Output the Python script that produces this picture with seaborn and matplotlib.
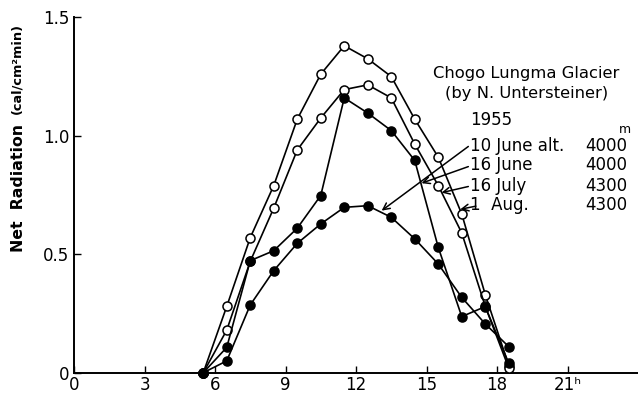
"""Net radiation, Chogo Lungma Glacier 1955 (after N. Untersteiner)."""

import matplotlib

matplotlib.use("Agg")
import matplotlib.pyplot as plt
import pandas as pd
import seaborn as sns

sns.set_theme(style="ticks")
plt.rcParams["font.family"] = ["DejaVu Sans"]
plt.rcParams["text.color"] = "black"
plt.rcParams["axes.labelcolor"] = "black"

# hour of day (local time)
hours = [5.5, 6.5, 7.5, 8.5, 9.5, 10.5, 11.5, 12.5, 13.5, 14.5, 15.5, 16.5, 17.5, 18.5]

# net radiation, cal/cm2 min
aug_1 = [0, 0.28, 0.57, 0.79, 1.07, 1.26, 1.38, 1.325, 1.25, 1.07, 0.91, 0.67, 0.33, 0.03]
july_16 = [0, 0.18, 0.47, 0.695, 0.94, 1.075, 1.195, 1.215, 1.16, 0.965, 0.79, 0.59, 0.28, 0.02]
june_16 = [0, 0.107, 0.473, 0.515, 0.61, 0.748, 1.16, 1.096, 1.022, 0.896, 0.529, 0.237, 0.279, 0.04]
june_10 = [0, 0.05, 0.286, 0.431, 0.546, 0.628, 0.698, 0.705, 0.656, 0.565, 0.459, 0.318, 0.206, 0.11]

x_ticks = [0, 3, 6, 9, 12, 15, 18, 21]
x_labels = ["0", "3", "6", "9", "12", "15", "18", "21ʰ"]
y_ticks = [0, 0.5, 1.0, 1.5]
y_labels = ["0", "0.5", "1.0", "1.5"]

series = [
    ("1 Aug.", aug_1, "white"),
    ("16 July", july_16, "white"),
    ("16 June", june_16, "black"),
    ("10 June", june_10, "black"),
]

fig = plt.figure(figsize=(6.38, 3.94), dpi=100)
ax = fig.add_axes([0.116, 0.054, 0.884, 0.902])

for name, vals, face in series:
    df = pd.DataFrame({"hour": hours, "rad": vals})
    sns.lineplot(
        data=df, x="hour", y="rad", ax=ax, sort=False,
        color="black", lw=1.2, marker="o", markersize=6.5,
        markerfacecolor=face, markeredgecolor="black",
        markeredgewidth=1.1, clip_on=False, zorder=3,
    )

ax.set_xlim(0, 24)
ax.set_ylim(0, 1.5)
ax.set_xticks(x_ticks, x_labels)
ax.set_yticks(y_ticks, y_labels)
ax.tick_params(direction="in", length=5, width=1, labelsize=12,
               colors="black", labelcolor="black")
ax.tick_params(axis="x", pad=2)
for side in ("top", "right"):
    ax.spines[side].set_visible(False)
for side in ("left", "bottom"):
    ax.spines[side].set_linewidth(1.4)
    ax.spines[side].set_color("black")
ax.set_xlabel("")
ax.set_ylabel("")

# y-axis title in two parts (units set smaller and raised)
fig.text(19 / 638, 1 - 188 / 394, "Net  Radiation", rotation=90,
         ha="center", va="center", fontsize=11.3, fontweight="bold")
fig.text(17 / 638, 1 - 68 / 394, "(cal/cm²min)", rotation=90,
         ha="center", va="center", fontsize=9.3, fontweight="bold")

# legend block written beside the curves
ax.text(19.24, 1.263, "Chogo Lungma Glacier", ha="center", va="center", fontsize=11.8)
ax.text(19.24, 1.179, "(by N. Untersteiner)", ha="center", va="center", fontsize=11.8)
ax.text(16.86, 1.065, "1955", ha="left", va="center", fontsize=12)
rows = [
    ("10 June alt.", "4000", 0.959),
    ("16 June", "4000", 0.875),
    ("16 July", "4300", 0.79),
    ("1  Aug.", "4300", 0.706),
]
for lab, alt, yv in rows:
    ax.text(16.86, yv, lab, ha="left", va="center", fontsize=12)
    ax.text(23.56, yv, alt, ha="right", va="center", fontsize=12)
ax.text(23.2, 1.025, "m", ha="left", va="center", fontsize=9)

arrows = [
    ((16.78, 0.955), (13.09, 0.684)),
    ((16.78, 0.870), (14.79, 0.800)),
    ((16.78, 0.786), (15.64, 0.760)),
    ((17.10, 0.703), (16.44, 0.690)),
]
for tail, head in arrows:
    ax.annotate(
        "", xy=head, xytext=tail,
        arrowprops=dict(arrowstyle="->", color="black", lw=1.1,
                        shrinkA=0, shrinkB=0),
    )

fig.savefig("out.png", dpi=100)
